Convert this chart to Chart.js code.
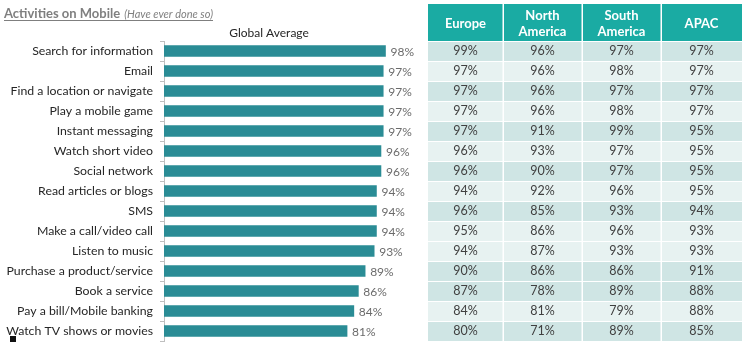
<!DOCTYPE html>
<html>
<head>
<meta charset="utf-8">
<script src="https://cdn.jsdelivr.net/npm/chart.js@4/dist/chart.umd.min.js"></script>
<style>
  html, body { margin: 0; padding: 0; background: #fff; }
  #wrap { width: 745px; height: 342px; position: relative; }
</style>
</head>
<body>
<div id="wrap"><canvas id="mobileChart" width="745" height="342"></canvas></div>
<script>
// ========== DADOS ==========
const categories = [
  'Search for information', 'Email', 'Find a location or navigate', 'Play a mobile game',
  'Instant messaging', 'Watch short video', 'Social network', 'Read articles or blogs',
  'SMS', 'Make a call/video call', 'Listen to music', 'Purchase a product/service',
  'Book a service', 'Pay a bill/Mobile banking', 'Watch TV shows or movies'
];
const globalAverage = [98, 97, 97, 97, 97, 96, 96, 94, 94, 94, 93, 89, 86, 84, 81];
const europe        = [99, 97, 97, 97, 97, 96, 96, 94, 96, 95, 94, 90, 87, 84, 80];
const northAmerica  = [96, 96, 96, 96, 91, 93, 90, 92, 85, 86, 87, 86, 78, 81, 71];
const southAmerica  = [97, 98, 97, 98, 99, 97, 97, 96, 93, 96, 93, 86, 89, 79, 89];
const apac          = [97, 97, 97, 97, 95, 95, 95, 95, 94, 93, 93, 91, 88, 88, 85];
const regionHeaders = [['Europe'], ['North', 'America'], ['South', 'America'], ['APAC']];

const FONT = 'Lato, "Open Sans", sans-serif';

// layout da tabela (estilo)
const tableCols = [428, 503, 582, 661, 742];
const headerTop = 4;
const rowDark = [1, 0, 1, 0, 1, 0, 1, 0, 1, 0, 0, 1, 1, 0, 1];

// Rótulos dos valores no fim das barras
const valueLabels = {
  id: 'valueLabels',
  afterDatasetsDraw(chart) {
    const ctx = chart.ctx;
    const meta = chart.getDatasetMeta(0);
    ctx.save();
    ctx.font = '12px ' + FONT;
    ctx.fillStyle = '#6B6B6B';
    ctx.textAlign = 'left';
    ctx.textBaseline = 'middle';
    meta.data.forEach((bar, i) => {
      ctx.fillText(globalAverage[i] + '%', bar.x + 5, bar.y + 1);
    });
    ctx.restore();
  }
};

// Títulos + tabela regional
const headingAndTable = {
  id: 'headingAndTable',
  afterDraw(chart) {
    const ctx = chart.ctx;
    const yScale = chart.scales.y;
    const area = chart.chartArea;
    ctx.save();

    // título principal
    ctx.fillStyle = '#7F7F7F';
    ctx.textBaseline = 'alphabetic';
    ctx.textAlign = 'left';
    ctx.font = 'bold 13px ' + FONT;
    ctx.fillText('Activities on Mobile', 4, 18);
    const w1 = ctx.measureText('Activities on Mobile').width;
    ctx.font = 'italic 11px ' + FONT;
    ctx.fillText('(Have ever done so)', 4 + w1 + 4, 18);
    const w2 = ctx.measureText('(Have ever done so)').width;
    ctx.fillRect(4, 20, w1 + 4 + w2, 1);

    // subtítulo do gráfico
    ctx.fillStyle = '#262626';
    ctx.font = '12px ' + FONT;
    ctx.textAlign = 'center';
    ctx.fillText('Global Average', (area.left + area.right) / 2 - 8, 37);

    // quadradinho preto
    ctx.fillStyle = '#111';
    ctx.fillRect(10, 336, 6, 6);

    // cabeçalho
    const rowH = yScale.getPixelForValue(1) - yScale.getPixelForValue(0);
    const firstTop = yScale.getPixelForValue(0) - rowH / 2;
    ctx.fillStyle = '#1AABA3';
    ctx.fillRect(tableCols[0], headerTop, tableCols[4] - tableCols[0], firstTop - headerTop);
    ctx.fillStyle = '#fff';
    ctx.font = 'bold 13px ' + FONT;
    ctx.textBaseline = 'middle';
    const hMid = (headerTop + firstTop) / 2;
    regionHeaders.forEach((lines, c) => {
      const cx = (tableCols[c] + tableCols[c + 1]) / 2;
      if (lines.length === 1) {
        ctx.fillText(lines[0], cx, hMid + 1);
      } else {
        ctx.fillText(lines[0], cx, hMid - 7);
        ctx.fillText(lines[1], cx, hMid + 9);
      }
    });

    // linhas da tabela
    const regions = [europe, northAmerica, southAmerica, apac];
    categories.forEach((cat, i) => {
      const yc = yScale.getPixelForValue(i);
      const top = yc - rowH / 2;
      ctx.fillStyle = rowDark[i] ? '#CFE5E4' : '#E7F2F1';
      ctx.fillRect(tableCols[0], top, tableCols[4] - tableCols[0], rowH);
      ctx.fillStyle = '#404040';
      ctx.font = '12.5px ' + FONT;
      regions.forEach((vals, c) => {
        const cx = (tableCols[c] + tableCols[c + 1]) / 2;
        ctx.fillText(vals[i] + '%', cx, yc);
      });
      // separador horizontal branco
      ctx.fillStyle = '#fff';
      ctx.fillRect(tableCols[0], top, tableCols[4] - tableCols[0], 1);
    });

    // separadores verticais
    ctx.fillStyle = '#fff';
    for (let c = 1; c < 4; c++) {
      ctx.fillRect(tableCols[c] - 0.5, headerTop, 1.5, area.bottom - headerTop);
    }
    ctx.restore();
  }
};

const ctx = document.getElementById('mobileChart').getContext('2d');
new Chart(ctx, {
  type: 'bar',
  data: {
    labels: categories,
    datasets: [{
      label: 'Global Average',
      data: globalAverage,
      backgroundColor: '#2A8C95',
      barThickness: 11
    }]
  },
  options: {
    indexAxis: 'y',
    responsive: false,
    animation: false,
    layout: { padding: { left: 0, right: 355, top: 41, bottom: 1 } },
    plugins: {
      legend: { display: false },
      tooltip: { enabled: false },
      title: { display: false }
    },
    scales: {
      x: { display: false, min: 0, max: 100 },
      y: {
        afterFit(scale) {
          scale.width = 164;
          scale.paddingTop = 0;
          scale.paddingBottom = 0;
        },
        border: { display: true, color: '#BFBFBF', width: 1 },
        grid: { drawOnChartArea: false, offset: true, tickLength: 4, color: '#BFBFBF' },
        ticks: { color: '#262626', font: { family: FONT, size: 12.3 }, padding: 7 }
      }
    }
  },
  plugins: [valueLabels, headingAndTable]
});
</script>
</body>
</html>
